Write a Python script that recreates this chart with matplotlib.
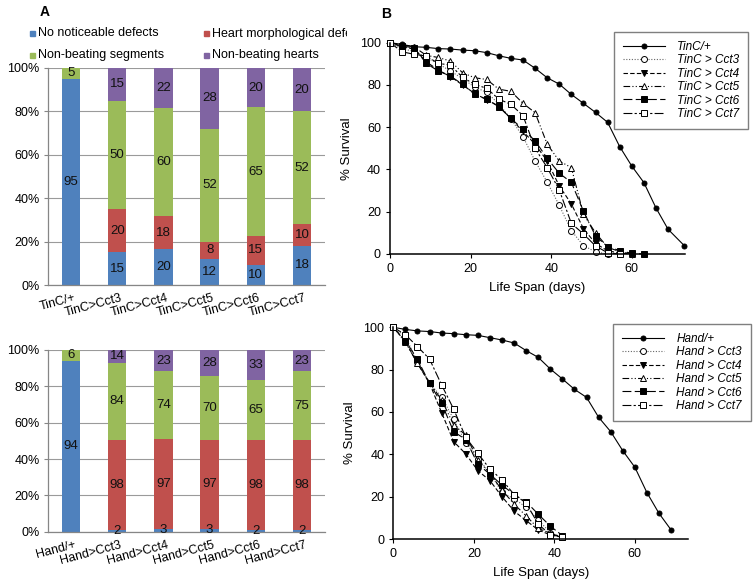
import matplotlib
matplotlib.use("Agg")
import matplotlib.pyplot as plt
import numpy as np
from matplotlib.patches import Rectangle
from matplotlib.transforms import Bbox

plt.rcParams['font.family'] = ['Liberation Sans', 'DejaVu Sans']

# ---------------- Data: panel A ----------------
seg_names = ['No noticeable defects', 'Heart morphological defects',
             'Non-beating segments', 'Non-beating hearts']
seg_colors = ['#4F81BD', '#C0504D', '#9BBB59', '#8064A2']

tinc_cats = ['TinC/+', 'TinC>Cct3', 'TinC>Cct4', 'TinC>Cct5', 'TinC>Cct6', 'TinC>Cct7']
tinc_no_defects = [95, 15, 20, 12, 10, 18]
tinc_heart_morph = [0, 20, 18, 8, 15, 10]
tinc_nonbeat_seg = [5, 50, 60, 52, 65, 52]
tinc_nonbeat_heart = [0, 15, 22, 28, 20, 20]

hand_cats = ['Hand/+', 'Hand>Cct3', 'Hand>Cct4', 'Hand>Cct5', 'Hand>Cct6', 'Hand>Cct7']
hand_no_defects = [94, 2, 3, 3, 2, 2]
hand_heart_morph = [0, 98, 97, 97, 98, 98]
hand_nonbeat_seg = [6, 84, 74, 70, 65, 75]
hand_nonbeat_heart = [0, 14, 23, 28, 33, 23]

# ---------------- Data: panel B ----------------
surv_yticks = [0, 20, 40, 60, 80, 100]
surv_xticks = [0, 20, 40, 60]

tinc_plus_days = [0, 3, 6, 9, 12, 15, 18, 21, 24, 27, 30, 33, 36, 39, 42, 45, 48, 51, 54, 57, 60, 63, 66, 69, 73]
tinc_plus = [100, 99.2, 98.1, 97.8, 97.2, 97.0, 96.5, 96.2, 95.3, 93.8, 92.6, 91.8, 87.9, 83.4,
             80.4, 75.5, 71.3, 67.0, 62.3, 50.8, 41.6, 33.8, 21.8, 11.7, 4.0]
tinc_cct3_days = [0, 3, 6, 9, 12, 15, 18, 21, 24, 27, 30, 33, 36, 39, 42, 45, 48, 51, 54]
tinc_cct3 = [100, 97, 96, 93, 90, 86.6, 83, 79, 76.5, 71, 64, 55.5, 44, 34, 23, 11, 4, 1, 0]
tinc_cct4_days = [0, 3, 6, 9, 12, 15, 18, 21, 24, 27, 30, 33, 36, 39, 42, 45, 48, 51, 54, 57, 60]
tinc_cct4 = [100, 98, 97, 91, 87, 84, 80, 76, 73, 70, 64, 58, 52, 44, 32.2, 23.7, 12, 5, 1.5, 0.5, 0]
tinc_cct5_days = [0, 3, 6, 9, 12, 15, 18, 21, 24, 27, 30, 33, 36, 39, 42, 45, 48, 51, 54, 57, 60]
tinc_cct5 = [100, 99, 98, 94, 93, 91.3, 85.8, 83.4, 82.6, 78, 77, 71.3, 66.9, 52, 44, 40.9,
             18.8, 10, 3.2, 1.1, 0]
tinc_cct6_days = [0, 3, 6, 9, 12, 15, 18, 21, 24, 27, 30, 33, 36, 39, 42, 45, 48, 51, 54, 57, 60, 63]
tinc_cct6 = [100, 98.4, 97.6, 90.2, 86.6, 84.2, 80.3, 75.6, 73.2, 69.7, 64.2, 59, 53.6, 45.3,
             38.2, 33.9, 20.3, 8.5, 3.5, 1.6, 0.3, 0]
tinc_cct7_days = [0, 3, 6, 9, 12, 15, 18, 21, 24, 27, 30, 33, 36, 39, 42, 45, 48, 51, 54, 57]
tinc_cct7 = [100, 95.7, 94.5, 93.7, 90.2, 89.4, 83.6, 80.3, 78.4, 73.3, 70.8, 65.5, 50, 40.9,
             30.3, 14.5, 9.5, 3.8, 0.6, 0]

hand_plus_days = [0, 3, 6, 9, 12, 15, 18, 21, 24, 27, 30, 33, 36, 39, 42, 45, 48, 51, 54, 57, 60, 63, 66, 69]
hand_plus = [100, 99, 98.3, 98, 97.3, 97, 96.5, 96.2, 95.1, 94, 92.6, 89, 85.8, 80.3, 75.6, 70.7,
             66.9, 57.5, 50.7, 41.7, 33.9, 21.9, 12.1, 4.3]
hand_cct_days = [0, 3, 6, 9, 12, 15, 18, 21, 24, 27, 30, 33, 36, 39, 42]
hand_cct3 = [100, 95.6, 83.8, 73.5, 67.2, 56.5, 45.5, 38, 31.3, 22, 19, 15, 9, 3, 0.8]
hand_cct4 = [100, 93.2, 83, 73.5, 59.7, 46, 40.2, 32.3, 27.6, 20, 13.2, 8.7, 4.3, 1.9, 0.8]
hand_cct5 = [100, 93, 83, 73.9, 65.7, 53.9, 49.1, 37.3, 31, 23.1, 16.5, 10.9, 5, 2.7, 0.8]
hand_cct6 = [100, 93.7, 84.9, 73.5, 64.1, 50.7, 47, 35.4, 30.6, 25.5, 21, 17.6, 11.7, 6.1, 1.6]
hand_cct7 = [100, 96.5, 90.9, 85, 72.8, 61.3, 48, 40.5, 33, 28, 21, 17, 7, 2, 1]

W, H = 754, 585
fig = plt.figure(figsize=(W / 100, H / 100), dpi=100)


def fr(l, t, r, b):
    return [l / W, 1 - b / H, (r - l) / W, (b - t) / H]


AXC = '#868686'


def stacked(ax, cats, series):
    vals = np.array(series, dtype=float)
    tot = vals.sum(axis=0)
    pct = vals / tot * 100
    x = np.arange(len(cats))
    bottom = np.zeros(len(cats))
    ax.set_axisbelow(True)
    ax.yaxis.grid(True, color='#9a9a9a', lw=0.8)
    for i in range(vals.shape[0]):
        ax.bar(x, pct[i], 0.4, bottom=bottom, color=seg_colors[i], zorder=2)
        for j in range(len(cats)):
            if vals[i, j] > 0:
                ax.text(x[j], bottom[j] + pct[i, j] / 2, '%d' % vals[i, j],
                        ha='center', va='center', fontsize=9.5, color='#111111', zorder=3)
        bottom += pct[i]
    ax.set_xlim(-0.5, len(cats) - 0.5)
    ax.set_ylim(0, 100)
    ax.set_yticks([0, 20, 40, 60, 80, 100])
    ax.set_yticklabels(['%d%%' % v for v in [0, 20, 40, 60, 80, 100]], fontsize=9)
    ax.set_xticks(x + 0.06)
    ax.set_xticklabels(cats, rotation=15, ha='right', rotation_mode='anchor', fontsize=9)
    ax.tick_params(axis='x', length=0, pad=5)
    ax.tick_params(axis='y', length=3, color=AXC, pad=3)
    for s in ['top', 'right']:
        ax.spines[s].set_visible(False)
    for s in ['left', 'bottom']:
        ax.spines[s].set_color(AXC)
        ax.spines[s].set_linewidth(0.9)


axA1 = fig.add_axes(fr(48, 68, 325, 285))
stacked(axA1, tinc_cats, [tinc_no_defects, tinc_heart_morph, tinc_nonbeat_seg, tinc_nonbeat_heart])
axA2 = fig.add_axes(fr(48, 350, 325, 531.7))
stacked(axA2, hand_cats, [hand_no_defects, hand_heart_morph, hand_nonbeat_seg, hand_nonbeat_heart])

# legend for panel A (text clipped like the original)
leg_pos = [(30, 33.5), (204, 33.5), (30, 55), (204, 55)]
for (px, py), name, col in zip(leg_pos, seg_names, seg_colors):
    fig.add_artist(Rectangle((px / W, 1 - (py + 2.5) / H), 5 / W, 5 / H,
                             transform=fig.transFigure, color=col))
    t = fig.text((px + 8) / W, 1 - py / H, name, fontsize=9, va='center', ha='left')
    t.set_clip_on(True)
    t.set_clip_box(Bbox.from_extents(0, 0, 347, H))

fig.text(40 / W, 1 - 12 / H, 'A', fontsize=10, fontweight='bold', va='center')
fig.text(381 / W, 1 - 14 / H, 'B', fontsize=10, fontweight='bold', va='center')

styles = [
    dict(ls='-', marker='o', mfc='black', ms=3.6),
    dict(ls=(0, (1, 1.5)), marker='o', mfc='white', ms=4.3, color='#666666'),
    dict(ls=(0, (4, 2)), marker='v', mfc='black', ms=4.8),
    dict(ls=(0, (6, 2, 1, 2, 1, 2)), marker='^', mfc='white', ms=4.8),
    dict(ls=(0, (8, 3)), marker='s', mfc='black', ms=4.3),
    dict(ls=(0, (8, 2, 2, 2)), marker='s', mfc='white', ms=4.8),
]


def survival(ax, series, labels, legend_anchor):
    for (d, v), lab, st in zip(series, labels, styles):
        st = dict(st)
        col = st.pop('color', 'black')
        ax.plot(d, v, color=col, lw=0.8, mec='black', mew=0.7, label=lab,
                clip_on=False, **st)
    ax.set_xlim(0, 73.2)
    ax.set_ylim(0, 100)
    ax.set_xticks(surv_xticks)
    ax.set_yticks(surv_yticks)
    ax.tick_params(labelsize=9, length=3, direction='out', width=0.8)
    for s in ['top', 'right']:
        ax.spines[s].set_visible(False)
    for s in ['left', 'bottom']:
        ax.spines[s].set_linewidth(1.1)
    ax.set_xlabel('Life Span (days)', fontsize=9.5, labelpad=5)
    ax.set_ylabel('% Survival', fontsize=9.5, labelpad=5)
    leg = ax.legend(loc='upper left', bbox_to_anchor=legend_anchor, bbox_transform=fig.transFigure,
                    borderaxespad=0, fancybox=False, edgecolor='#7f7f7f', framealpha=1,
                    handlelength=3.6, labelspacing=0.12, borderpad=0.75, handletextpad=1.0,
                    prop=dict(size=8.5, style='italic'))
    leg.get_frame().set_linewidth(1.0)


axB1 = fig.add_axes(fr(390, 42.7, 685, 254))
survival(axB1, [(tinc_plus_days, tinc_plus), (tinc_cct3_days, tinc_cct3), (tinc_cct4_days, tinc_cct4),
                (tinc_cct5_days, tinc_cct5), (tinc_cct6_days, tinc_cct6), (tinc_cct7_days, tinc_cct7)],
         ['TinC/+', 'TinC > Cct3', 'TinC > Cct4', 'TinC > Cct5', 'TinC > Cct6', 'TinC > Cct7'],
         (614 / W, 1 - 32 / H))

axB2 = fig.add_axes(fr(393.3, 327.3, 688, 539))
survival(axB2, [(hand_plus_days, hand_plus), (hand_cct_days, hand_cct3), (hand_cct_days, hand_cct4),
                (hand_cct_days, hand_cct5), (hand_cct_days, hand_cct6), (hand_cct_days, hand_cct7)],
         ['Hand/+', 'Hand > Cct3', 'Hand > Cct4', 'Hand > Cct5', 'Hand > Cct6', 'Hand > Cct7'],
         (613 / W, 1 - 324 / H))

fig.savefig('out.png', dpi=100)
